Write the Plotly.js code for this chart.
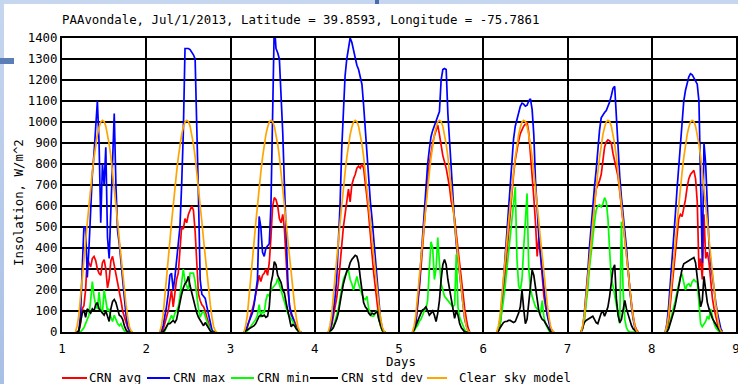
<!DOCTYPE html>
<html><head><meta charset="utf-8">
<script src="https://cdn.plot.ly/plotly-3.0.1.min.js"></script>
<style>
html,body{margin:0;padding:0;background:#fff;overflow:hidden;}
#chart{position:absolute;left:0;top:0;width:738px;height:384px;}
.deco{position:absolute;pointer-events:none;}
</style></head><body>
<div id="chart"></div>
<div class="deco" style="left:0;top:0;width:738px;height:4px;background:#c6d6ef"></div>
<div class="deco" style="left:0;top:0;width:4px;height:384px;background:linear-gradient(#c6d6ef,#a9c0e6)"></div>
<div class="deco" style="left:0;top:58px;width:14px;height:6px;background:#5b7db8"></div>
<div class="deco" style="left:375px;top:0;width:4px;height:4px;background:#4a6aa8"></div>
<script>
// ---- data ----
const dayNumbers = [1,2,3,4,5,6,7,8];
const dayFraction = [0.16,0.18,0.20,0.22,0.24,0.26,0.28,0.30,0.32,0.34,0.36,0.38,0.40,0.42,0.44,0.46,0.48,0.50,0.52,0.54,0.56,0.58,0.60,0.62,0.64,0.66,0.68,0.70,0.72,0.74,0.76,0.78,0.80,0.82,0.84];
const clearSkyDaily = [0,30,80,160,250,340,430,520,610,690,760,830,890,940,975,1000,1008,1002,980,945,895,835,765,690,610,525,440,355,275,200,130,70,25,5,0];

const crnAvg = [
 [0,0,5,40,110,125,200,355,330,310,350,360,340,300,280,270,330,345,300,210,250,340,360,320,280,240,200,150,100,70,40,20,5,0,0],
 [0,0,10,40,80,100,150,200,120,180,250,280,420,500,490,540,520,560,580,600,580,480,330,180,150,130,120,100,70,40,15,0,0,0,0],
 [0,5,20,50,75,110,140,180,230,270,240,270,280,300,270,330,450,600,640,630,600,540,520,560,490,330,200,130,80,70,50,30,10,0,0],
 [0,5,30,70,110,160,230,330,420,500,560,620,680,620,700,730,750,780,790,780,800,780,720,640,560,450,370,280,200,120,70,30,10,0,0],
 [0,10,40,110,200,300,410,520,630,720,800,860,900,935,960,985,940,880,840,810,780,735,690,620,590,540,470,380,300,230,175,110,60,20,0],
 [0,5,30,100,190,280,380,480,580,670,750,820,870,910,945,965,980,990,1000,950,860,760,640,520,360,455,350,250,170,120,80,50,20,5,0],
 [0,15,60,140,240,340,440,530,610,680,700,720,750,820,880,905,915,910,900,850,815,790,740,670,600,520,440,360,295,200,130,75,30,10,0],
 [0,10,50,130,210,290,370,460,540,560,550,590,630,690,730,750,760,770,730,620,300,350,250,560,350,380,330,230,160,110,70,40,15,0,0]
];
const crnMax = [
 [0,0,5,80,300,500,500,260,400,600,750,850,980,1100,900,520,800,700,880,450,350,600,900,1040,700,480,420,330,250,180,80,30,5,0,0],
 [0,5,30,70,120,180,270,280,200,260,330,420,500,700,950,1350,1350,1350,1345,1335,1320,1300,1000,640,250,180,170,160,120,80,40,10,0,0,0],
 [0,5,30,50,70,90,130,180,250,550,500,380,360,400,410,420,600,1100,1470,1350,1330,1300,1150,950,700,450,250,120,90,70,40,20,5,0,0],
 [0,10,40,90,160,250,400,600,870,1070,1220,1300,1360,1400,1380,1340,1300,1270,1250,1220,1180,1080,960,820,700,620,540,440,340,220,130,60,20,0,0],
 [0,15,50,120,220,340,460,580,700,800,870,930,960,985,1005,1025,1050,1200,1250,1255,1250,1040,900,760,600,520,420,350,280,180,120,60,30,5,0],
 [0,10,50,130,240,360,480,600,720,830,920,980,1010,1040,1075,1090,1085,1075,1080,1100,1110,1060,940,720,560,450,370,290,200,140,80,40,10,0,0],
 [0,20,90,170,280,400,510,600,690,770,870,960,1020,1035,1045,1055,1075,1095,1125,1160,1170,1020,860,740,640,570,490,400,290,190,120,60,20,0,0],
 [0,40,120,220,330,450,560,680,780,900,1010,1100,1150,1190,1215,1230,1225,1210,1195,1180,1100,700,330,900,800,600,420,330,260,200,140,90,50,15,0]
];
const crnMin = [
 [0,0,0,0,10,20,40,60,80,150,240,170,130,110,190,110,90,200,150,100,110,70,50,80,60,40,30,40,20,5,0,0,0,0,0],
 [0,0,0,5,20,40,60,80,60,90,100,120,170,230,300,240,220,200,280,280,280,240,160,110,70,90,100,70,50,30,10,0,0,0,0],
 [0,0,5,15,30,40,50,60,80,130,70,100,90,150,180,170,200,210,215,230,255,220,200,170,140,110,90,75,65,50,30,15,5,0,0],
 [0,0,10,25,50,75,110,160,200,250,270,280,295,250,230,200,230,265,230,200,180,160,155,170,110,90,75,75,90,105,60,30,5,0,0],
 [0,5,20,30,50,60,80,100,110,150,300,430,400,250,300,450,330,230,200,170,160,150,140,130,120,130,370,120,70,50,30,10,0,0,0],
 [0,10,40,90,150,220,300,380,450,520,600,690,350,220,200,250,400,550,660,300,210,170,140,120,110,100,90,150,70,40,20,5,0,0,0],
 [0,20,60,120,200,300,380,450,520,580,600,605,595,610,640,620,540,390,250,220,170,120,90,40,525,200,60,20,5,0,0,0,0,0,0],
 [0,5,20,50,80,110,150,190,230,265,272,230,200,225,230,215,240,250,240,240,150,40,25,40,50,75,60,110,70,40,20,10,0,0,0]
];
const crnStdDev = [
 [0,0,5,40,90,105,70,110,100,90,110,100,130,140,110,100,95,80,100,70,50,110,145,155,140,110,80,75,60,30,10,0,0,0,0],
 [0,0,0,10,25,40,40,50,55,45,60,100,150,180,210,230,240,265,220,185,160,120,90,70,55,40,30,45,30,15,5,0,0,0,0],
 [0,5,10,15,20,25,30,40,60,75,80,75,80,70,75,120,230,270,335,320,270,250,235,200,185,140,100,60,25,35,30,15,5,0,0],
 [0,5,10,20,40,60,90,130,185,230,265,290,300,330,345,355,365,360,330,260,200,140,120,110,90,80,90,85,90,100,60,30,10,0,0],
 [0,10,30,50,75,90,105,110,120,100,80,90,100,80,50,90,150,250,320,345,320,250,200,170,105,65,100,80,40,20,10,0,0,0,0],
 [0,5,20,35,45,50,50,55,55,50,45,50,70,90,120,200,110,40,60,140,250,295,270,210,140,100,75,60,55,40,25,10,0,0,0],
 [0,25,45,55,60,65,70,75,60,45,40,70,90,100,75,95,120,170,230,300,320,160,80,45,60,110,150,110,80,50,30,15,5,0,0],
 [0,0,15,40,65,95,130,175,215,260,300,325,330,335,340,345,350,355,330,260,200,120,150,265,200,140,110,85,65,50,35,20,10,0,0]
];
const seriesNames = ['CRN avg','CRN max','CRN min','CRN std dev','Clear sky model'];
const seriesColors = ['#ff0000','#0000ff','#00ff00','#000000','#ffa500'];
const xTickValues = [1,2,3,4,5,6,7,8,9];
const yTickValues = [0,100,200,300,400,500,600,700,800,900,1000,1100,1200,1300,1400];
const chartTitle = 'PAAvondale, Jul/1/2013, Latitude = 39.8593, Longitude = -75.7861';
const xTitle = 'Days';
const yTitle = 'Insolation, W/m^2';

// ---- build ----
function buildSeries(perDay) {
  const x = [], y = [];
  dayNumbers.forEach((d, i) => {
    const vals = Array.isArray(perDay[0]) ? perDay[i] : perDay;
    dayFraction.forEach((f, j) => { x.push(d + f); y.push(vals[j]); });
    x.push(null); y.push(null);
  });
  return {x, y};
}
const seriesData = [crnAvg, crnMax, crnMin, crnStdDev, clearSkyDaily];
const FONT = 'DejaVu Sans Mono, Liberation Mono, monospace';
const traces = seriesData.map((s, k) => {
  const b = buildSeries(s);
  return {type:'scatter', mode:'lines', name:seriesNames[k], x:b.x, y:b.y,
    line:{color:seriesColors[k], width:1.7}, connectgaps:false, showlegend:false, hoverinfo:'skip'};
});

// plot area geometry (pixels)
const W = 738, H = 384, ML = 62, MR = 2, MT = 38, MB = 52;
const PW = W - ML - MR, PH = H - MT - MB;
const px2x = p => (p - ML) / PW;
const py2y = p => (H - MB - p) / PH;

// manual legend (positions only)
const legLineStart = [62, 147, 231, 310, 427];
const legLineEnd   = [87, 170, 254, 338, 447];
const legTextStart = [87, 171, 255, 339, 457];
const legY = 377;
const shapes = [], annotations = [];
seriesNames.forEach((n, k) => {
  shapes.push({type:'line', xref:'paper', yref:'paper', x0:px2x(legLineStart[k]), x1:px2x(legLineEnd[k]),
    y0:py2y(legY+1), y1:py2y(legY+1), line:{color:seriesColors[k], width:2}});
  annotations.push({text:n, xref:'paper', yref:'paper', x:px2x(legTextStart[k]), y:py2y(legY),
    xanchor:'left', yanchor:'middle', showarrow:false, font:{family:FONT, size:12.4, color:'#000'}});
});
annotations.push({text:yTitle, xref:'paper', yref:'paper', x:px2x(18), y:py2y(202), textangle:-90,
  xanchor:'center', yanchor:'middle', showarrow:false, font:{family:FONT, size:12.4, color:'#000'}});
annotations.push({text:xTitle, xref:'paper', yref:'paper', x:px2x(401), y:py2y(361),
  xanchor:'center', yanchor:'middle', showarrow:false, font:{family:FONT, size:12.4, color:'#000'}});

const layout = {
  width:W, height:H, margin:{l:ML, r:MR, t:MT, b:MB, pad:0},
  paper_bgcolor:'#ffffff', plot_bgcolor:'#ffffff',
  showlegend:false, hovermode:false,
  title:{text:chartTitle, x:ML/W, xanchor:'left', xref:'container', y:1-20/H, yanchor:'middle', yref:'container',
    font:{family:FONT, size:12.4, color:'#000'}},
  xaxis:{range:[1,9], tickvals:xTickValues, ticktext:xTickValues.map(String), showgrid:true, gridcolor:'#000', gridwidth:2,
    showline:true, mirror:true, linecolor:'#000', linewidth:2, zeroline:false,
    ticks:'outside', ticklen:4, tickcolor:'rgba(0,0,0,0)', ticklabeloverflow:'allow',
    tickfont:{family:FONT, size:12.4, color:'#000'}},
  yaxis:{range:[0,1400], tickvals:yTickValues, ticktext:yTickValues.map(String), showgrid:true, gridcolor:'#000', gridwidth:2,
    showline:true, mirror:true, linecolor:'#000', linewidth:2, zeroline:false,
    ticks:'', ticklabeloverflow:'allow',
    tickfont:{family:FONT, size:12.4, color:'#000'}},
  shapes:shapes, annotations:annotations
};
Plotly.newPlot('chart', traces, layout, {staticPlot:true, displayModeBar:false});
</script>
</body></html>
